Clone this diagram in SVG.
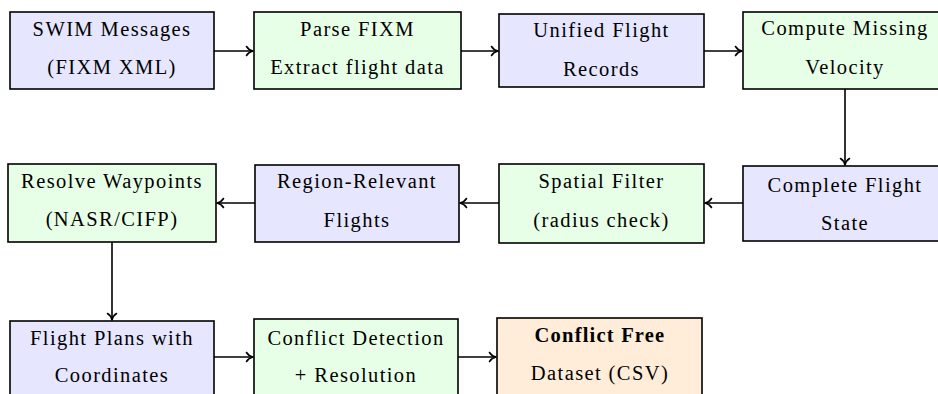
<svg xmlns="http://www.w3.org/2000/svg" width="938" height="394" viewBox="0 0 938 394">
<style>
  rect.box { stroke: #000; stroke-width: 1.6; }
  .blue { fill: #E6E6FF; }
  .green { fill: #E6FFE6; }
  .orange { fill: #FFECD9; }
  text { font-family: "Liberation Serif", "Times New Roman", serif; font-size: 20.5px; letter-spacing: 1.4px; text-anchor: middle; fill: #000; }
  text.b { font-weight: bold; letter-spacing: 1.2px; }
  .conn path { stroke: #000; stroke-width: 1.6; fill: none; marker-end: url(#arr); }
</style>
<defs>
  <marker id="arr" markerUnits="userSpaceOnUse" markerWidth="12" markerHeight="12" viewBox="-8 -6 10 12" refX="0" refY="0" orient="auto">
    <path d="M-6.5,-4.5 C-4.8,-1.7 -2,-0.4 0,0 C-2,0.4 -4.8,1.7 -6.5,4.5" fill="none" stroke="#000" stroke-width="1.6" stroke-linecap="round" stroke-linejoin="round"/>
  </marker>
</defs>
<g class="conn" id="connectors">
  <path d="M214 51 H253"/>
  <path d="M461 51 H498"/>
  <path d="M704 51 H742"/>
  <path d="M845 89 V165"/>
  <path d="M743 203 H705"/>
  <path d="M499 203 H460"/>
  <path d="M255 203 H217"/>
  <path d="M112 242 V320"/>
  <path d="M214 357 H253"/>
  <path d="M458 357 H496"/>
</g>
<g id="n1"><rect class="box blue" x="10" y="12" width="204" height="77"/><text x="112" y="36">SWIM Messages</text><text x="112" y="74">(FIXM XML)</text></g>
<g id="n2"><rect class="box green" x="254" y="12" width="207" height="77"/><text x="357.5" y="36">Parse FIXM</text><text x="357.5" y="74">Extract flight data</text></g>
<g id="n3"><rect class="box blue" x="499" y="14" width="205" height="73"/><text x="601.5" y="37">Unified Flight</text><text x="601.5" y="76">Records</text></g>
<g id="n4"><rect class="box green" x="743" y="12" width="205" height="77"/><text x="845" y="35">Compute Missing</text><text x="845" y="74">Velocity</text></g>
<g id="n5"><rect class="box blue" x="743" y="166" width="205" height="75"/><text x="845" y="192">Complete Flight</text><text x="845" y="230">State</text></g>
<g id="n6"><rect class="box green" x="499" y="164" width="205" height="79"/><text x="601.5" y="188">Spatial Filter</text><text x="601.5" y="227">(radius check)</text></g>
<g id="n7"><rect class="box blue" x="255" y="165" width="204" height="77"/><text x="357" y="188">Region-Relevant</text><text x="357" y="227">Flights</text></g>
<g id="n8"><rect class="box green" x="8" y="164" width="208" height="78"/><text x="112" y="188">Resolve Waypoints</text><text x="112" y="226">(NASR/CIFP)</text></g>
<g id="n9"><rect class="box blue" x="10" y="321" width="204" height="80"/><text x="112" y="345">Flight Plans with</text><text x="112" y="382">Coordinates</text></g>
<g id="n10"><rect class="box green" x="254" y="319" width="204" height="82"/><text x="356" y="345">Conflict Detection</text><text x="356" y="382">+ Resolution</text></g>
<g id="n11"><rect class="box orange" x="497" y="318" width="205" height="83"/><text class="b" x="600" y="342">Conflict Free</text><text x="600" y="380">Dataset (CSV)</text></g>
</svg>
